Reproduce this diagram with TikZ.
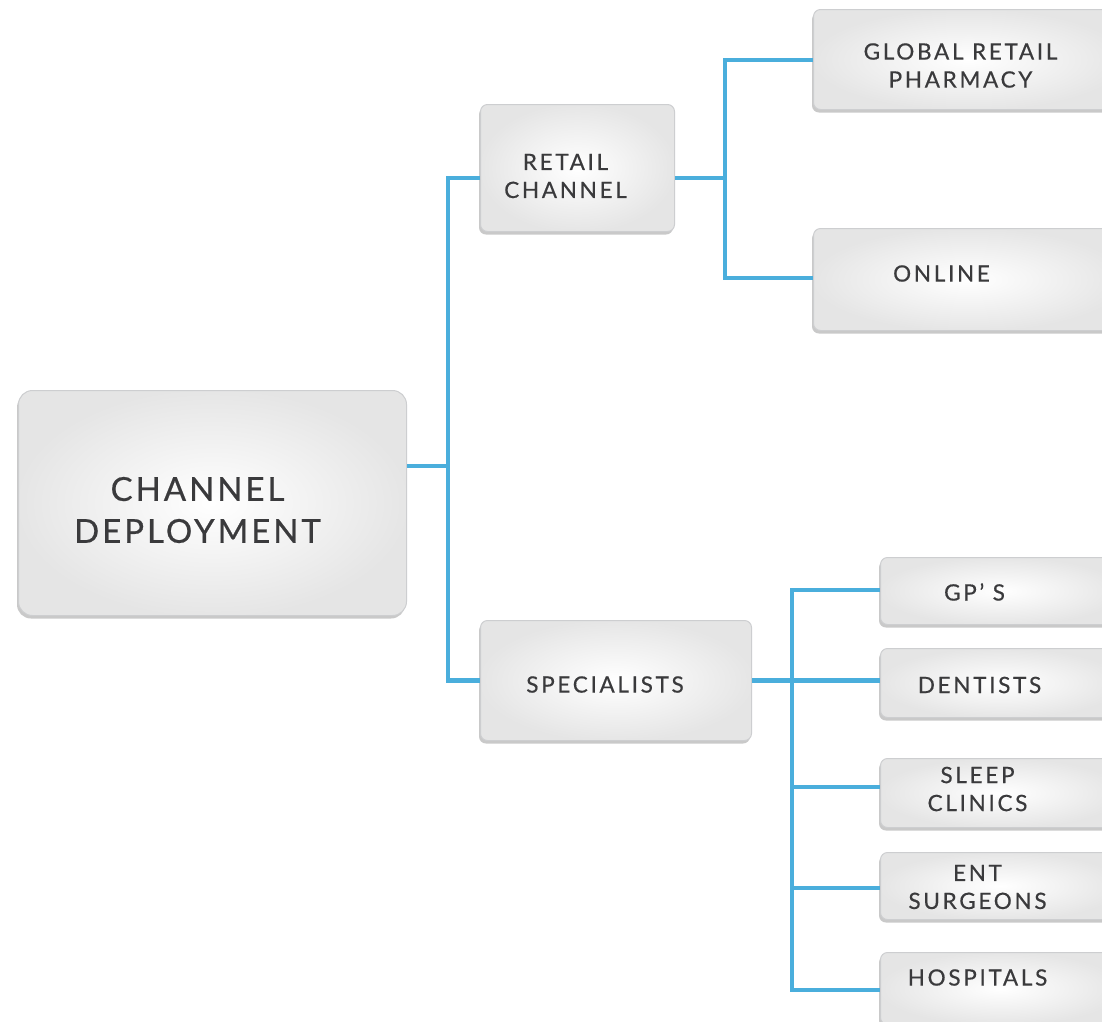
\documentclass[tikz,border=0pt]{standalone}
\usepackage{fontspec}
\setmainfont{Lato}[LetterSpace=12, FakeBold=0.5]
\newfontfamily\bigfont{Lato}[LetterSpace=9, FakeBold=0.6]
\usetikzlibrary{shadows,calc}
\definecolor{conn}{HTML}{4AAEDC}
\definecolor{txt}{HTML}{3A3A3C}
\definecolor{edge}{HTML}{CDCED0}
\tikzset{
  box/.style={draw=edge, line width=1pt, rounded corners=7pt, shading=radial,
    inner color=white, outer color=black!10, anchor=north west,
    drop shadow={shadow xshift=-1.5pt, shadow yshift=-3pt, opacity=0.35, fill=black!60}},
  lbl/.style={text=txt, align=center, font=\fontsize{22.5}{28}\selectfont},
  bigl/.style={text=txt, align=center, font=\bigfont\fontsize{33}{42}\selectfont},
  connline/.style={draw=conn, line width=4.5pt},
}
\begin{document}
\begin{tikzpicture}[x=1pt,y=-1pt]
\clip (0,0) rectangle (1102,1021);
\fill[white] (0,0) rectangle (1102,1021);
% boxes
\node[box, rounded corners=14pt, minimum width=388pt, minimum height=225pt,
  label={[bigl, xshift=-15pt, yshift=-7pt]center:CHANNEL\\DEPLOYMENT}] (main) at (18,390) {};
\node[box, minimum width=194pt, minimum height=127pt,
  label={[lbl, xshift=-12pt, yshift=-8pt]center:RETAIL\\CHANNEL}] (retail) at (480,104) {};
\node[box, minimum width=271pt, minimum height=120pt,
  label={[lbl, xshift=-11pt, yshift=-4pt]center:SPECIALISTS}] (spec) at (480,620) {};
\node[box, minimum width=310pt, minimum height=100pt,
  label={[lbl, xshift=-8pt, yshift=-6pt]center:GLOBAL RETAIL\\PHARMACY}] (glob) at (813,9) {};
\node[box, minimum width=310pt, minimum height=102pt,
  label={[lbl, xshift=-27pt, yshift=6pt]center:ONLINE}] (online) at (813,228) {};
\node[box, minimum width=240pt, minimum height=67pt,
  label={[lbl, xshift=-26pt, yshift=-1pt]center:GP' S}] (gps) at (880,557) {};
\node[box, minimum width=240pt, minimum height=69pt,
  label={[lbl, xshift=-21pt, yshift=-2pt]center:DENTISTS}] (dent) at (880,648) {};
\node[box, minimum width=240pt, minimum height=69pt,
  label={[lbl, xshift=-23pt, yshift=4pt]center:SLEEP\\CLINICS}] (sleep) at (880,758) {};
\node[box, minimum width=240pt, minimum height=67pt,
  label={[lbl, xshift=-23pt, yshift=-1pt]center:ENT\\SURGEONS}] (ent) at (880,852) {};
\node[box, minimum width=240pt, minimum height=72pt,
  label={[lbl, xshift=-23pt, yshift=11pt]center:HOSPITALS}] (hosp) at (880,952) {};
% junctions
\coordinate (j1) at (448,466);
\coordinate (j2) at (725,178);
\coordinate (j3) at (792,680);
% connectors
\draw[connline] (main.east |- j1) -- (j1);
\draw[connline] (retail.west |- j2) -| (j1) |- (spec.west);
\draw[connline] (retail.east |- j2) -- (j2);
\draw[connline] (glob.west |- 0,60) -| (j2) |- (online.west |- 0,278);
\draw[connline] (spec.east) -- (dent.west |- spec.east);
\draw[connline] (gps.west |- 0,590) -| (792,990) -- (hosp.west |- 0,990);
\draw[connline] (792,787) -- (sleep.west |- 0,787);
\draw[connline] (792,888) -- (ent.west |- 0,888);
\end{tikzpicture}
\end{document}
